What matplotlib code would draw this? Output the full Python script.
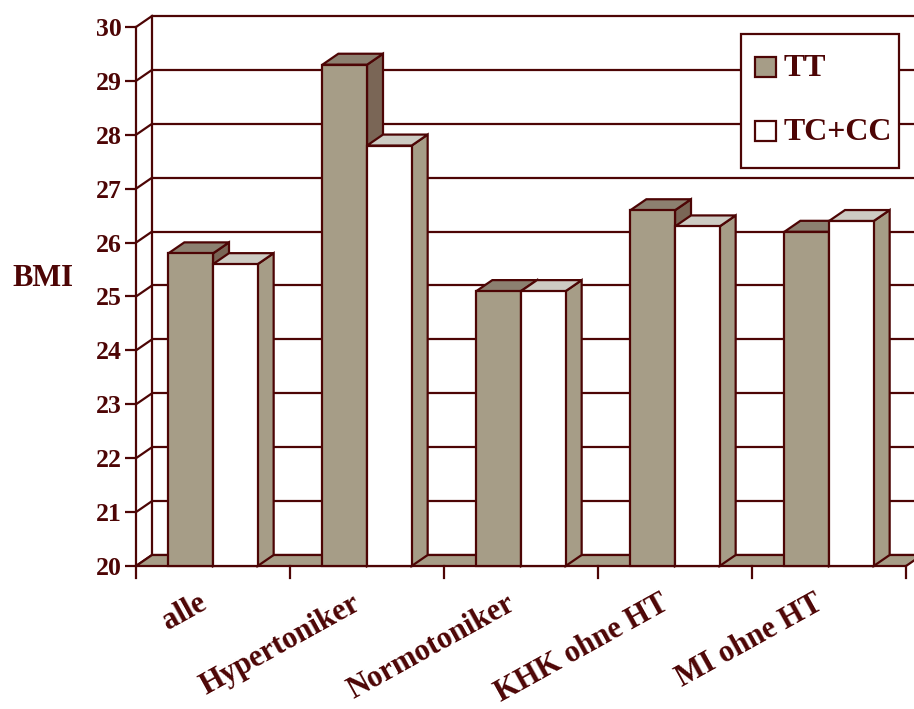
import matplotlib.pyplot as plt
from matplotlib.patches import Polygon, Rectangle

categories = ["alle", "Hypertoniker", "Normotoniker", "KHK ohne HT", "MI ohne HT"]
tt_values = [25.8, 29.3, 25.1, 26.6, 26.2]
tc_cc_values = [25.6, 27.8, 25.1, 26.3, 26.4]
series_names = ["TT", "TC+CC"]

y_min, y_max = 20, 30

edge = "#4d0505"
tan = "#a69d87"
tt_side = "#7a6656"
tt_top = "#8c8070"
tc_top = "#cdcbc3"

FONT = "Liberation Serif"
plt.rcParams["font.family"] = FONT
plt.rcParams["font.weight"] = "bold"

W, H = 914, 709
fig = plt.figure(figsize=(W / 100, H / 100), dpi=100)


def fx(px):
    return px / W


def fy(py):
    return 1 - py / H


# front plane of the 3D box, in pixels
left_px, right_px, top_px, bottom_px = 136, 914, 27, 566
cat_px = 154.0
ax = fig.add_axes([left_px / W, (H - bottom_px) / H,
                   (right_px - left_px) / W, (bottom_px - top_px) / H])
x_lo = -0.5
x_hi = x_lo + (right_px - left_px) / cat_px
ax.set_xlim(x_lo, x_hi)
ax.set_ylim(y_min, y_max)

unit_px = (bottom_px - top_px) / (y_max - y_min)
DX = 16 / cat_px          # depth shift to the right
DY = 11 / unit_px         # depth shift upward
n = len(categories)
x_end = x_lo + n

lw = 1.6

for s in ax.spines.values():
    s.set_visible(False)
ax.set_xticks([])

# back wall grid
for v in range(y_min, y_max + 1):
    ax.plot([x_lo + DX, x_hi + 0.1], [v + DY, v + DY], color=edge, lw=lw,
            clip_on=False, zorder=1, solid_capstyle="butt")
# left wall
ax.plot([x_lo, x_lo], [y_min, y_max], color=edge, lw=lw, clip_on=False, zorder=1)
ax.plot([x_lo + DX, x_lo + DX], [y_min + DY, y_max + DY], color=edge, lw=lw,
        clip_on=False, zorder=1)
for v in range(y_min, y_max + 1):
    ax.plot([x_lo, x_lo + DX], [v, v + DY], color=edge, lw=lw, clip_on=False, zorder=1)

# floor
floor = Polygon([(x_lo, y_min), (x_lo + DX, y_min + DY), (x_end + DX, y_min + DY),
                 (x_end, y_min)], closed=True, facecolor=tan, edgecolor=edge,
                lw=lw, clip_on=False, zorder=2)
ax.add_patch(floor)

# category ticks under the floor edge
tick_len = 12 / unit_px
for k in range(n + 1):
    ax.plot([x_lo + k, x_lo + k], [y_min, y_min - tick_len], color=edge, lw=lw,
            clip_on=False, zorder=2)


def draw_bar(x0, w, v, front, top, side):
    faces = [
        ([(x0 + w, y_min), (x0 + w + DX, y_min + DY), (x0 + w + DX, v + DY), (x0 + w, v)], side),
        ([(x0, v), (x0 + w, v), (x0 + w + DX, v + DY), (x0 + DX, v + DY)], top),
        ([(x0, y_min), (x0 + w, y_min), (x0 + w, v), (x0, v)], front),
    ]
    for pts, col in faces:
        ax.add_patch(Polygon(pts, closed=True, facecolor=col, edgecolor=edge,
                             lw=lw, joinstyle="miter", clip_on=False, zorder=3))


bw = 0.29
for i in range(n):
    draw_bar(i - bw, bw, tt_values[i], tan, tt_top, tt_side)
    draw_bar(i, bw, tc_cc_values[i], "white", tc_top, tan)

# y axis ticks and labels
ax.set_yticks(range(y_min, y_max + 1))
ax.tick_params(axis="y", direction="out", length=8, width=lw, color=edge,
               labelcolor=edge, labelsize=18.5, pad=2)
for t in ax.get_yticklabels():
    t.set_fontweight("bold")

# category labels
for i, name in enumerate(categories):
    ax.annotate(name, (i, y_min), xytext=(-11, -16.5), textcoords="offset points",
                rotation=29, rotation_mode="anchor", ha="right", va="top",
                fontsize=22, fontweight="bold", color=edge, annotation_clip=False)

fig.text(fx(43), fy(278), "BMI", ha="center", va="center", fontsize=22,
         fontweight="bold", color=edge)

# legend box
fig.patches.append(Rectangle((fx(741), fy(168)), fx(899) - fx(741), fy(34) - fy(168),
                             transform=fig.transFigure, facecolor="white",
                             edgecolor=edge, lw=lw, zorder=5))
legend_fill = [tan, "white"]
for k, (name, col) in enumerate(zip(series_names, legend_fill)):
    cy = 67 + 64 * k
    fig.patches.append(Rectangle((fx(755), fy(cy + 10)), fx(776) - fx(755), fy(cy - 10) - fy(cy + 10),
                                 transform=fig.transFigure, facecolor=col,
                                 edgecolor=edge, lw=lw, zorder=6))
    fig.text(fx(784), fy(cy + 1), name, ha="left", va="center", fontsize=23,
             fontweight="bold", color=edge, zorder=7)

fig.savefig("out.png", dpi=100)
